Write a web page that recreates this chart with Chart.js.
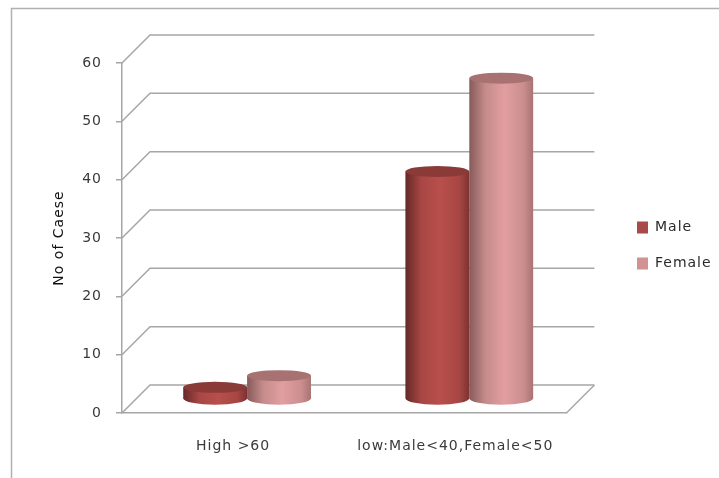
<!DOCTYPE html>
<html>
<head>
<meta charset="utf-8">
<script src="https://cdn.jsdelivr.net/npm/chart.js@4"></script>
<style>
  html, body { margin: 0; padding: 0; background: #fff; }
  canvas { display: block; }
</style>
</head>
<body>
<canvas id="chart" width="719" height="478"></canvas>
<script>
const categories = ["High >60", "low:Male<40,Female<50"];
const maleValues = [2, 39];
const femaleValues = [4, 55];
const yTicks = [0, 10, 20, 30, 40, 50, 60];

const lineColor = "#a6a6a6";
const textColor = "#3a3a3a";
const depth = 28; // сдвиг задней стенки
const capHeight = 5.5;

const shades = {
  Male: {
    top: "#8a3b38",
    stops: ["#652826", "#a84744", "#b84f4c", "#a64643", "#7c3230"],
  },
  Female: {
    top: "#a87272",
    stops: ["#875a5a", "#c58b8b", "#e29ea0", "#cb8e8e", "#a97373"],
  },
};

const drawCylinder = (ctx, bar, shade) => {
  const half = bar.width / 2;
  const cx = bar.x + depth / 2;
  const topY = bar.y - depth / 2;
  const baseY = bar.base - depth / 2;

  const grad = ctx.createLinearGradient(cx - half, 0, cx + half, 0);
  const offsets = [0, 0.25, 0.55, 0.85, 1];
  shade.stops.forEach((c, i) => grad.addColorStop(offsets[i], c));

  ctx.beginPath();
  ctx.moveTo(cx - half, topY);
  ctx.lineTo(cx - half, baseY);
  ctx.ellipse(cx, baseY, half, capHeight + 1, 0, Math.PI, 0, true);
  ctx.lineTo(cx + half, topY);
  ctx.closePath();
  ctx.fillStyle = grad;
  ctx.fill();

  ctx.beginPath();
  ctx.ellipse(cx, topY, half, capHeight, 0, 0, Math.PI * 2);
  ctx.fillStyle = shade.top;
  ctx.fill();
};

const walls3d = {
  id: "walls3d",
  beforeLayout(chart) {
    chart.ctx.letterSpacing = "1px";
  },
  afterLayout(chart) {
    // легенда стоит дальше от графика, чем оставляет раскладка
    const legend = chart.legend;
    const w = legend.width;
    const h = legend.height;
    legend.left = 615;
    legend.right = 615 + w;
    legend.top -= 25;
    legend.bottom = legend.top + h;
  },
  beforeDraw(chart) {
    chart.ctx.letterSpacing = "1px";
  },
  beforeDatasetsDraw(chart) {
    const { ctx, scales, chartArea } = chart;
    const { left, right } = chartArea;
    const y = scales.y;

    ctx.save();
    ctx.strokeStyle = "#b0b0b0";
    ctx.lineWidth = 1.5;
    ctx.beginPath();
    ctx.moveTo(chart.width, 8.5);
    ctx.lineTo(11.5, 8.5);
    ctx.lineTo(11.5, chart.height);
    ctx.stroke();

    ctx.strokeStyle = lineColor;
    ctx.lineWidth = 1.5;
    yTicks.forEach((v) => {
      const py = y.getPixelForValue(v);
      ctx.beginPath();
      ctx.moveTo(left, py);
      ctx.lineTo(left + depth, py - depth);
      ctx.lineTo(right + depth, py - depth);
      ctx.stroke();
    });
    const p0 = y.getPixelForValue(0);
    ctx.beginPath();
    ctx.moveTo(right, p0);
    ctx.lineTo(right + depth, p0 - depth);
    ctx.stroke();
    ctx.restore();
  },
  beforeDatasetDraw(chart, args) {
    const meta = args.meta;
    const shade = shades[chart.data.datasets[args.index].label];
    meta.data.forEach((bar) => drawCylinder(chart.ctx, bar, shade));
    return false;
  },
};

new Chart(document.getElementById("chart"), {
  type: "bar",
  data: {
    labels: categories,
    datasets: [
      { label: "Male", data: maleValues, backgroundColor: "#a94a48", barPercentage: 1, categoryPercentage: 0.575 },
      { label: "Female", data: femaleValues, backgroundColor: "#d09292", barPercentage: 1, categoryPercentage: 0.575 },
    ],
  },
  options: {
    responsive: false,
    animation: false,
    layout: { padding: { left: 51, top: 63, right: 46, bottom: 0 } },
    plugins: {
      tooltip: { enabled: false },
      legend: {
        position: "right",
        labels: {
          boxWidth: 11,
          boxHeight: 12,
          padding: 22,
          color: "#2a2a2a",
          font: { family: "DejaVu Sans", size: 14 },
        },
      },
    },
    scales: {
      x: {
        afterFit: (scale) => { scale.height = 65; },
        grid: { display: false, drawTicks: false },
        border: { display: true, color: lineColor, width: 1.5 },
        ticks: { padding: 25, color: textColor, font: { family: "DejaVu Sans", size: 14 }, maxRotation: 0 },
      },
      y: {
        min: 0,
        max: 60,
        afterFit: (scale) => { scale.width = 71; },
        afterBuildTicks: (scale) => { scale.ticks = yTicks.map((v) => ({ value: v })); },
        title: {
          display: true,
          text: "No of Caese",
          color: "#111111",
          font: { family: "DejaVu Sans", size: 14 },
          padding: { top: 0, bottom: 0 },
        },
        grid: { drawOnChartArea: false, tickLength: 6, color: lineColor, lineWidth: 1.5 },
        border: { display: true, color: lineColor, width: 1.5 },
        ticks: { padding: 14, color: textColor, font: { family: "DejaVu Sans", size: 14 } },
      },
    },
  },
  plugins: [walls3d],
});
</script>
</body>
</html>
